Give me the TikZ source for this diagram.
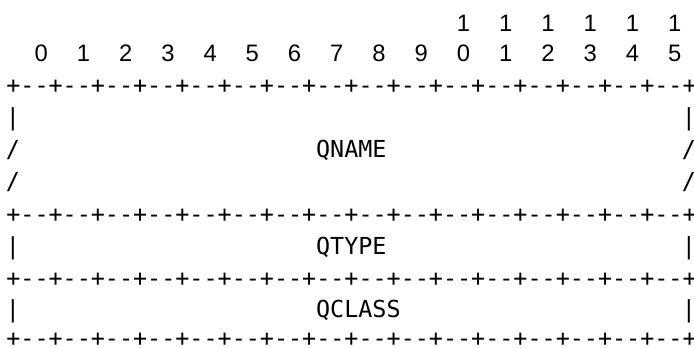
\documentclass[tikz,border=0pt]{standalone}
\usepackage{fontspec}
\setmonofont{DejaVu Sans Mono}
\newfontfamily\bitfont{Liberation Sans}
\tikzset{
  ascii/.style={font=\ttfamily\fontsize{11.7}{14}\selectfont, inner sep=0pt, anchor=base},
  bitnum/.style={font=\bitfont\fontsize{11.9}{14}\selectfont, inner sep=0pt, anchor=base},
  field/.style={ascii, anchor=base west}
}

\begin{document}
\begin{tikzpicture}[x=0.5pt,y=-0.5pt]
\useasboundingbox (0,0) rectangle (694,347);

% bit numbers, one column of text = 14.08
\foreach \i in {0,...,15} {
  \pgfmathsetmacro\xx{13+14.08*(3*\i+2)}
  \pgfmathtruncatemacro\dig{mod(\i,10)}
  \node[bitnum] (bit\i) at (\xx,61.5) {\dig};
}
\foreach \i in {10,...,15} {
  \pgfmathsetmacro\xx{13+14.08*(3*\i+2)}
  \node[bitnum] (tens\i) at (\xx,31.5) {1};
}

% separator rows
\foreach \r/\y in {top/94, mid/222, low/286, bot/346.5}
  \node[field] (\r) at (5.96,\y) {+--+--+--+--+--+--+--+--+--+--+--+--+--+--+--+--+};

% side walls
\foreach \r/\y in {a/126, d/254, e/317} {
  \node[ascii] (left\r) at (13,\y) {|};
  \node[ascii] (right\r) at (689,\y) {|};
}
\foreach \r/\y in {b/158, c/190} {
  \node[ascii] (left\r) at (13,\y) {/};
  \node[ascii] (right\r) at (689,\y) {/};
}

% field names
\node[field] (qname) at (315.7,158) {QNAME};
\node[field] (qtype) at (315.7,254) {QTYPE};
\node[field] (qclass) at (315.7,317) {QCLASS};
\end{tikzpicture}
\end{document}
